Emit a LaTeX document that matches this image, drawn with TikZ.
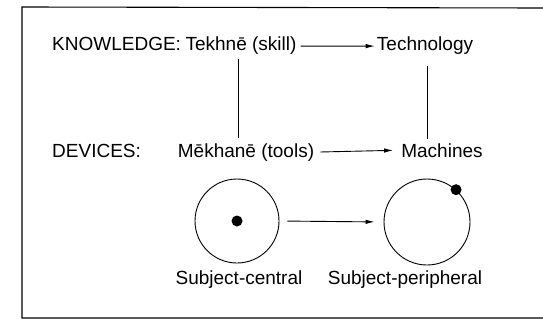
\documentclass[tikz,border=0pt]{standalone}
\usepackage{fontspec}
\setmainfont{Liberation Sans}
\usetikzlibrary{arrows.meta}
\begin{document}
\begin{tikzpicture}[x=1pt,y=-1pt,
  lbl/.style={font=\fontsize{19}{22}\selectfont, inner sep=2pt, anchor=base},
  conn/.style={line width=0.9pt},
  arr/.style={conn, -{Latex[length=9pt,width=4.5pt]}},
  ring/.style={circle, draw, line width=0.9pt, inner sep=0pt},
  dotc/.style={circle, fill=black, inner sep=0pt, minimum size=11pt}]
\useasboundingbox (0,0) rectangle (543,321);
% frame
\draw[line width=1.1pt] (543,8) -- (22,7) -- (22,318) -- (543,318);
% labels
\node[lbl, anchor=base west] (know) at (50,51) {KNOWLEDGE:};
\node[lbl] (tek) at (241,51) {Tekhnē (skill)};
\node[lbl] (tech) at (425,51) {Technology};
\node[lbl, anchor=base west] (dev) at (50,157) {DEVICES:};
\node[lbl] (mek) at (246,157) {Mēkhanē (tools)};
\node[lbl] (mach) at (442,157) {Machines};
% connectors
\draw[arr, shorten <=2pt] (tek.east) -- (tech.west);
\draw[arr, shorten <=4pt, shorten >=6pt] (mek.east) -- (mach.west);
\draw[conn, shorten <=2pt, shorten >=3pt] ([xshift=-3pt]tek.south) -- ([xshift=-3pt]tek.south |- mek.north);
\draw[conn, shorten <=9pt, shorten >=2pt] ([xshift=2pt]tech.south) -- ([xshift=2pt]tech.south |- mach.north);
% circles
\node[ring, minimum size=84pt] (c1) at (237,221) {};
\node[ring, minimum size=86pt] (c2) at (427,222) {};
\node[dotc] (d1) at (c1.center) {};
\node[dotc] (d2) at (c2.48) {};
\draw[arr, shorten <=8pt, shorten >=9pt] (c1.east) -- (c2.west);
\node[lbl] (sc) at (239,284) {Subject-central};
\node[lbl] (sp) at (405,284) {Subject-peripheral};
\end{tikzpicture}
\end{document}
